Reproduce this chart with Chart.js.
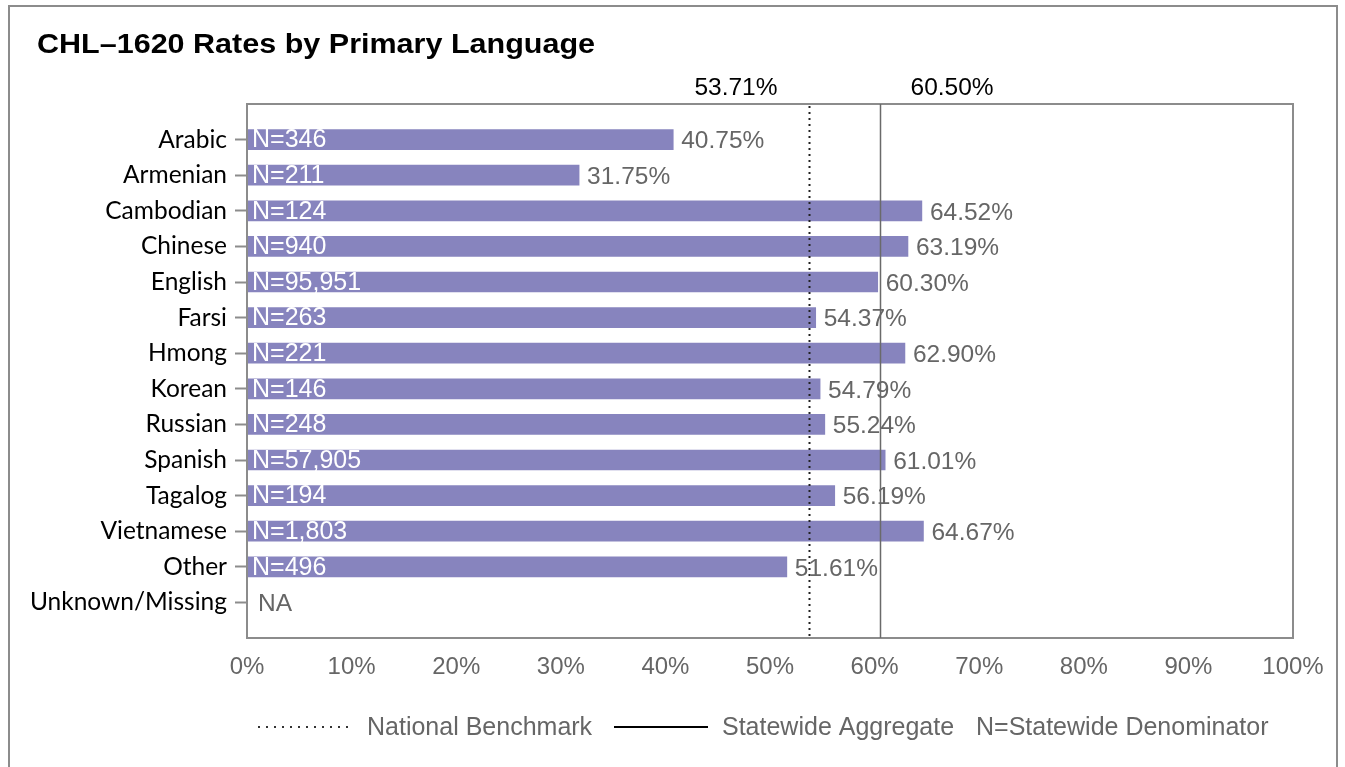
<!DOCTYPE html>
<html>
<head>
<meta charset="utf-8">
<script src="https://cdn.jsdelivr.net/npm/chart.js@4.4.0/dist/chart.umd.min.js"></script>
<style>
  html, body { margin: 0; padding: 0; background: #fff; overflow: hidden; }
  #frame { position: absolute; left: 8px; top: 5px; width: 1330px; height: 800px; border: 2px solid #8c8c8c; box-sizing: border-box; }
  #wrap { position: absolute; left: 0; top: 0; width: 1345px; height: 767px; }
</style>
</head>
<body>
<div id="frame"></div>
<div id="wrap"><canvas id="rateChart" width="1345" height="767"></canvas></div>
<script>
var languages = ["Arabic", "Armenian", "Cambodian", "Chinese", "English", "Farsi", "Hmong",
                 "Korean", "Russian", "Spanish", "Tagalog", "Vietnamese", "Other", "Unknown/Missing"];
var rates = [40.75, 31.75, 64.52, 63.19, 60.30, 54.37, 62.90, 54.79, 55.24, 61.01, 56.19, 64.67, 51.61, null];
var denominators = [346, 211, 124, 940, 95951, 263, 221, 146, 248, 57905, 194, 1803, 496, null];
var nationalBenchmark = 53.71;
var statewideAggregate = 60.50;
var xTicks = [0, 10, 20, 30, 40, 50, 60, 70, 80, 90, 100];

var textFont = '"Liberation Sans", Arial, sans-serif';
var labelFont = 'Lato, "Liberation Sans", sans-serif';

var points = languages.map(function (lang, i) {
    return { x: rates[i], y: i + 1 };
});

var overlay = {
    id: 'overlay',
    afterDatasetsDraw: function (chart) {
        var ctx = chart.ctx;
        var area = chart.chartArea;
        var xs = chart.scales.x;
        var ys = chart.scales.y;
        ctx.save();

        // plot box
        ctx.strokeStyle = '#8c8c8c';
        ctx.lineWidth = 2;
        ctx.setLineDash([]);
        ctx.strokeRect(area.left, area.top, area.right - area.left, area.bottom - area.top);

        // reference lines
        var bx = Math.round(xs.getPixelForValue(nationalBenchmark)) + 0.5;
        ctx.strokeStyle = '#222';
        ctx.lineWidth = 2;
        ctx.setLineDash([2, 4]);
        ctx.beginPath();
        ctx.moveTo(bx, area.top + 2);
        ctx.lineTo(bx, area.bottom);
        ctx.stroke();

        var sx = Math.round(xs.getPixelForValue(statewideAggregate)) + 0.5;
        ctx.strokeStyle = '#6a6a6a';
        ctx.lineWidth = 1.5;
        ctx.setLineDash([]);
        ctx.beginPath();
        ctx.moveTo(sx, area.top);
        ctx.lineTo(sx, area.bottom);
        ctx.stroke();

        // labels above the plot
        ctx.font = '24.5px ' + textFont;
        ctx.fillStyle = '#000';
        ctx.textBaseline = 'middle';
        ctx.textAlign = 'right';
        ctx.fillText(nationalBenchmark.toFixed(2) + '%', bx - 32, 88);
        ctx.textAlign = 'left';
        ctx.fillText(statewideAggregate.toFixed(2) + '%', sx + 30, 88);

        // bar labels
        var meta = chart.getDatasetMeta(0);
        meta.data.forEach(function (bar, i) {
            var y = ys.getPixelForValue(i + 1);
            ctx.textAlign = 'left';
            if (rates[i] === null) {
                ctx.font = '24.5px ' + textFont;
                ctx.fillStyle = '#666';
                ctx.fillText('NA', area.left + 11, y + 2);
                return;
            }
            ctx.font = '25px ' + textFont;
            ctx.fillStyle = '#fff';
            ctx.fillText('N=' + denominators[i].toLocaleString('en-US'), area.left + 5, y + 1);
            ctx.font = '24.5px ' + textFont;
            ctx.fillStyle = '#666';
            ctx.fillText(rates[i].toFixed(2) + '%', bar.x + 8, y + 2);
        });

        // title (slightly stretched like the original)
        ctx.fillStyle = '#000';
        ctx.font = 'bold 28px ' + textFont;
        ctx.textAlign = 'left';
        ctx.textBaseline = 'alphabetic';
        ctx.save();
        ctx.translate(37, 52.5);
        ctx.scale(1.09, 1);
        ctx.fillText('CHL\u20131620 Rates by Primary Language', 0, 0);
        ctx.restore();

        // legend
        var ly = 727;
        ctx.textBaseline = 'middle';
        ctx.strokeStyle = '#333';
        ctx.lineWidth = 2;
        ctx.setLineDash([2, 6]);
        ctx.beginPath();
        ctx.moveTo(258, ly);
        ctx.lineTo(354, ly);
        ctx.stroke();
        ctx.setLineDash([]);
        ctx.strokeStyle = '#000';
        ctx.beginPath();
        ctx.moveTo(614, ly);
        ctx.lineTo(708, ly);
        ctx.stroke();
        ctx.font = '25px ' + textFont;
        ctx.fillStyle = '#666';
        ctx.fillText('National Benchmark', 367, ly + 1);
        ctx.fillText('Statewide Aggregate', 722, ly + 1);
        ctx.fillText('N=Statewide Denominator', 976, ly + 1);

        ctx.restore();
    }
};

var ctx = document.getElementById('rateChart').getContext('2d');
new Chart(ctx, {
    type: 'bar',
    data: {
        datasets: [{
            label: 'Rate',
            data: points,
            backgroundColor: '#8784be',
            barThickness: 20
        }]
    },
    options: {
        indexAxis: 'y',
        responsive: false,
        animation: false,
        layout: { padding: { top: 104, right: 52, bottom: 89, left: 0 } },
        plugins: {
            legend: { display: false },
            tooltip: { enabled: false }
        },
        scales: {
            x: {
                type: 'linear',
                min: 0,
                max: 100,
                afterFit: function (scale) { scale.height = 40; },
                afterBuildTicks: function (scale) {
                    scale.ticks = xTicks.map(function (v) { return { value: v }; });
                },
                ticks: {
                    color: '#666',
                    font: { family: textFont, size: 24 },
                    padding: 15,
                    maxRotation: 0,
                    callback: function (v) { return v + '%'; }
                },
                grid: { display: false, drawTicks: false },
                border: { display: false }
            },
            y: {
                type: 'linear',
                min: 0,
                max: 15,
                reverse: true,
                offset: false,
                afterFit: function (scale) { scale.width = 247; },
                afterBuildTicks: function (scale) {
                    scale.ticks = languages.map(function (l, i) { return { value: i + 1 }; });
                },
                ticks: {
                    color: '#000',
                    font: { family: labelFont, size: 24.5 },
                    padding: 8,
                    autoSkip: false,
                    callback: function (v) { return languages[v - 1]; }
                },
                grid: { offset: false, drawOnChartArea: false, drawTicks: true, tickLength: 12, tickColor: '#8c8c8c', tickWidth: 2 },
                border: { display: true, color: '#8c8c8c', width: 2 }
            }
        }
    },
    plugins: [overlay]
});
</script>
</body>
</html>
